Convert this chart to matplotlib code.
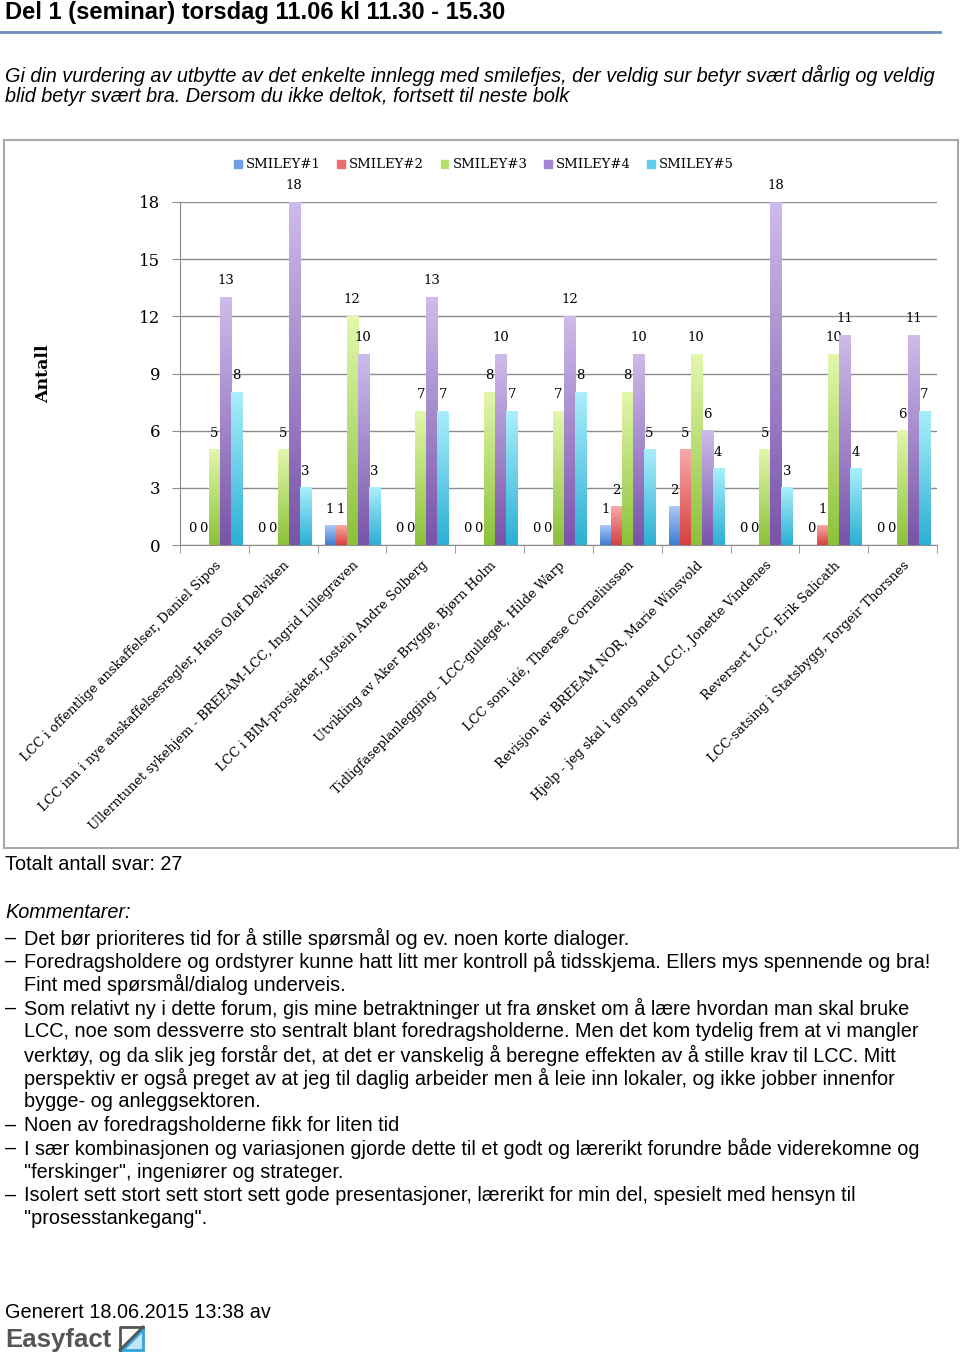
import numpy as np
import matplotlib
matplotlib.use('Agg')
import matplotlib.pyplot as plt
from matplotlib.colors import LinearSegmentedColormap
from matplotlib.patches import Rectangle, Patch, Polygon
from matplotlib.lines import Line2D

W, H = 960, 1356

# data
kategorier = [
    'LCC i offentlige anskaffelser, Daniel Sipos',
    'LCC inn i nye anskaffelsesregler, Hans Olaf Delviken',
    'Ullerntunet sykehjem - BREEAM-LCC, Ingrid Lillegraven',
    'LCC i BIM-prosjekter, Jostein Andre Solberg',
    'Utvikling av Aker Brygge, Bjørn Holm',
    'Tidligfaseplanlegging - LCC-gulleget, Hilde Warp',
    'LCC som idé, Therese Corneliussen',
    'Revisjon av BREEAM NOR, Marie Winsvold',
    'Hjelp - jeg skal i gang med LCC!, Jonette Vindenes',
    'Reversert LCC, Erik Salicath',
    'LCC-satsing i Statsbygg, Torgeir Thorsnes',
]
serier = ['SMILEY#1', 'SMILEY#2', 'SMILEY#3', 'SMILEY#4', 'SMILEY#5']
smiley1 = [0, 0, 1, 0, 0, 0, 1, 2, 0, 0, 0]
smiley2 = [0, 0, 1, 0, 0, 0, 2, 5, 0, 1, 0]
smiley3 = [5, 5, 12, 7, 8, 7, 8, 10, 5, 10, 6]
smiley4 = [13, 18, 10, 13, 10, 12, 10, 6, 18, 11, 11]
smiley5 = [8, 3, 3, 7, 7, 8, 5, 4, 3, 4, 7]
yticks = [0, 3, 6, 9, 12, 15, 18]

tittel = 'Del 1 (seminar) torsdag 11.06 kl 11.30 - 15.30'
ingress = ['Gi din vurdering av utbytte av det enkelte innlegg med smilefjes, der veldig sur betyr svært dårlig og veldig',
           'blid betyr svært bra. Dersom du ikke deltok, fortsett til neste bolk']
totalt = 'Totalt antall svar: 27'
kommentarer = [
    ['Det bør prioriteres tid for å stille spørsmål og ev. noen korte dialoger.'],
    ['Foredragsholdere og ordstyrer kunne hatt litt mer kontroll på tidsskjema. Ellers mys spennende og bra!',
     'Fint med spørsmål/dialog underveis.'],
    ['Som relativt ny i dette forum, gis mine betraktninger ut fra ønsket om å lære hvordan man skal bruke',
     'LCC, noe som dessverre sto sentralt blant foredragsholderne. Men det kom tydelig frem at vi mangler',
     'verktøy, og da slik jeg forstår det, at det er vanskelig å beregne effekten av å stille krav til LCC. Mitt',
     'perspektiv er også preget av at jeg til daglig arbeider men å leie inn lokaler, og ikke jobber innenfor',
     'bygge- og anleggsektoren.'],
    ['Noen av foredragsholderne fikk for liten tid'],
    ['I sær kombinasjonen og variasjonen gjorde dette til et godt og lærerikt forundre både viderekomne og',
     '"ferskinger", ingeniører og strateger.'],
    ['Isolert sett stort sett stort sett gode presentasjoner, lærerikt for min del, spesielt med hensyn til',
     '"prosesstankegang".'],
]

# farger (topp, bunn) for gradient
farger = [('#adc9f4', '#3d7dd4'),
          ('#f7a9a9', '#d8403f'),
          ('#e2f7ab', '#8cc23a'),
          ('#cdbbeb', '#7954a9'),
          ('#a9eefb', '#2cb0d4')]
midt = ['#6f9fe4', '#ec6e6e', '#b7e06a', '#a386cf', '#5ccfea']

sans = ['Liberation Sans', 'DejaVu Sans']
serif = ['DejaVu Serif']
fs = 14.3

fig = plt.figure(figsize=(W / 100, H / 100), dpi=100)


def fx(x):
    return x / W


def fy(y):
    return 1 - y / H


# tekst over og under diagrammet
fig.text(fx(5), fy(13), tittel, fontsize=17.1, fontweight='bold', family=sans, va='center')
fig.add_artist(Line2D([fx(0), fx(940)], [fy(32), fy(32)], color='#6a8cbf', lw=2))
fig.text(fx(5), fy(75), ingress[0], fontsize=fs, style='italic', family=sans, va='center')
fig.text(fx(5), fy(97), ingress[1], fontsize=fs, style='italic', family=sans, va='center')

# ramme rundt diagram
fig.add_artist(Rectangle((fx(4), fy(848)), fx(954), (848 - 140) / H, transform=fig.transFigure,
                         fill=False, edgecolor='#a8a8a8', lw=1.5))

ax = fig.add_axes([fx(180), fy(545), fx(937 - 180), (545 - 202) / H])
verdier = [smiley1, smiley2, smiley3, smiley4, smiley5]
x = np.arange(len(kategorier))
bw = 0.16
for s, vals in enumerate(verdier):
    bars = ax.bar(x + (s - 2) * bw, vals, bw, color=midt[s], zorder=2, label=serier[s])
    cmap = LinearSegmentedColormap.from_list('g%d' % s, [farger[s][1], farger[s][0]])
    for b, v in zip(bars, vals):
        if v > 0:
            grad = np.linspace(0, 1, 64).reshape(-1, 1)
            ax.imshow(grad, extent=[b.get_x(), b.get_x() + b.get_width(), 0, v], origin='lower',
                      cmap=cmap, aspect='auto', zorder=3)
        ax.annotate(str(v), (b.get_x() + b.get_width() / 2, v), xytext=(0, 12), textcoords='offset points',
                    ha='center', va='center', fontsize=9.5, family=serif, annotation_clip=False)

ax.set_xlim(-0.5, len(kategorier) - 0.5)
ax.set_ylim(0, 18)
ax.set_yticks(yticks)
ax.set_yticklabels([str(t) for t in yticks], fontsize=12, family=serif)
ax.yaxis.grid(True, color='#8c8c8c', lw=1, zorder=0)
ax.set_axisbelow(True)
ax.set_xticks(x)
ax.set_xticklabels(kategorier, rotation=45, ha='right', rotation_mode='anchor', fontsize=9.4, family=serif)
ax.set_xticks(np.arange(-0.5, len(kategorier)), minor=True)
ax.tick_params(axis='x', which='major', length=0, pad=10)
ax.tick_params(axis='x', which='minor', length=6, color='#8c8c8c')
ax.tick_params(axis='y', length=6, color='#8c8c8c', pad=8)
for side in ['top', 'right']:
    ax.spines[side].set_visible(False)
ax.spines['left'].set_color('#8c8c8c')
ax.spines['bottom'].set_color('#8c8c8c')
ax.set_ylabel('Antall', fontsize=12.5, fontweight='bold', family=serif, labelpad=0)
ax.yaxis.set_label_coords(fx(52 - 180) / fx(937 - 180), 0.5)

handles = [Patch(color=midt[i]) for i in range(5)]
fig.legend(handles, serier, loc='center', bbox_to_anchor=(fx(484), fy(165)), ncol=5, frameon=False,
           prop={'family': serif, 'size': 9.5}, handlelength=0.6, handleheight=0.6, handletextpad=0.3,
           columnspacing=1.25)

fig.text(fx(5), fy(865), totalt, fontsize=fs, family=sans, va='center')
fig.text(fx(5), fy(913), 'Kommentarer:', fontsize=fs, style='italic', family=sans, va='center')
y = 938
for k in kommentarer:
    fig.text(fx(5), fy(y), '–', fontsize=fs, family=sans, va='center')
    for linje in k:
        fig.text(fx(24), fy(y), linje, fontsize=fs, family=sans, va='center')
        y += 23.4

fig.text(fx(5), fy(1313), 'Generert 18.06.2015 13:38 av', fontsize=fs, family=sans, va='center')
fig.text(fx(5), fy(1340), 'Easyfact', fontsize=18.5, fontweight='bold', family=sans, color='#555555', va='center')
# logo
fig.add_artist(Polygon([(fx(122), fy(1350)), (fx(143), fy(1350)), (fx(143), fy(1329))], closed=True,
                       transform=fig.transFigure, facecolor='#bfe6f7', edgecolor='#35a2d8', lw=2))
fig.add_artist(Line2D([fx(120), fx(120), fx(143)], [fy(1350), fy(1327), fy(1327)], color='#555555', lw=2))
fig.add_artist(Line2D([fx(120), fx(143)], [fy(1350), fy(1327)], color='#555555', lw=2))

fig.savefig('out.png', dpi=100)
